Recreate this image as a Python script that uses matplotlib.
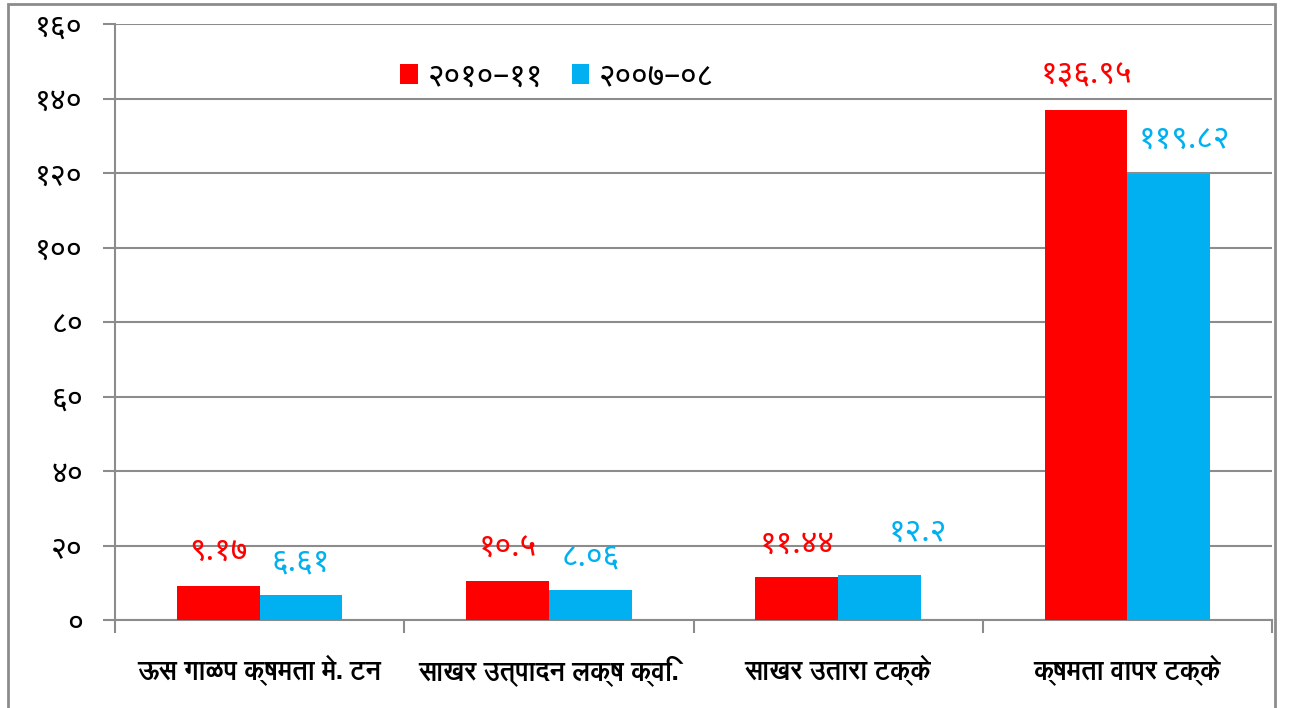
import numpy as np
import matplotlib
matplotlib.use('Agg')
from matplotlib import pyplot as plt
from matplotlib.patches import Rectangle

# data
categories = ['ऊस गाळप क्षमता मे. टन', 'साखर उत्पादन लक्ष क्वि.', 'साखर उतारा टक्के', 'क्षमता वापर टक्के']
series_names = ['२०१०–११', '२००७–०८']
values_2010 = [9.17, 10.5, 11.44, 136.95]
values_2007 = [6.61, 8.06, 12.2, 119.82]
y_ticks = [0, 20, 40, 60, 80, 100, 120, 140, 160]

red = '#FF0000'
blue = '#00B0F0'
grid_gray = '#8C8C8C'

num_font = ['Noto Sans Devanagari', 'FreeSans', 'DejaVu Sans']
cat_font = ['FreeSans', 'Noto Sans Devanagari', 'DejaVu Sans']
plt.rcParams['font.family'] = num_font

deva_digits = str.maketrans('0123456789', '०१२३४५६७८९')


def to_deva(v):
    return str(v).translate(deva_digits)


fig = plt.figure(figsize=(12.93, 7.08), dpi=100)
ax = fig.add_axes([115 / 1293, 1 - 620 / 708, (1272 - 115) / 1293, (620 - 24) / 708])

x = np.arange(len(categories))
w = 0.286
b1 = ax.bar(x - w / 2, values_2010, w, color=red, zorder=3)
b2 = ax.bar(x + w / 2, values_2007, w, color=blue, zorder=3)

# label offsets in px (x, y above bar top), as placed in the original
off_2010 = [(0, 35), (0, 33), (0, 33), (0, 35)]
off_2007 = [(0, 33), (0, 33), (38, 42), (16, 34)]
for bars, vals, col, offs in [(b1, values_2010, red, off_2010), (b2, values_2007, blue, off_2007)]:
    for rect, v, (dx, dy) in zip(bars, vals, offs):
        ax.annotate(to_deva(v), (rect.get_x() + rect.get_width() / 2, rect.get_height()),
                    xytext=(dx * 0.72, dy * 0.72), textcoords='offset points',
                    ha='center', va='center', color=col, fontsize=23)

ax.set_xlim(-0.5, len(categories) - 0.5)
ax.set_ylim(0, 160)
ax.set_yticks(y_ticks)
ax.set_yticklabels([to_deva(t) for t in y_ticks], fontsize=22)
ax.yaxis.grid(True, color=grid_gray, linewidth=1.5, zorder=0)

ax.set_xticks(x)
ax.set_xticklabels(categories, fontsize=18.5, fontweight='bold', family=cat_font)
ax.set_xticks(np.arange(-0.5, len(categories)), minor=True)
ax.tick_params(axis='x', which='major', length=0, pad=25)
ax.tick_params(axis='x', which='minor', length=9, color=grid_gray, width=1.5)
ax.tick_params(axis='y', length=9, color=grid_gray, width=1.5, pad=14)

for s in ['top', 'right']:
    ax.spines[s].set_visible(False)
for s in ['left', 'bottom']:
    ax.spines[s].set_color(grid_gray)
    ax.spines[s].set_linewidth(1.5)

fig.legend([b1, b2], series_names, loc='center left', bbox_to_anchor=(400 / 1293, 1 - 77 / 708),
           ncol=2, frameon=False, fontsize=23, handlelength=0.56, handleheight=0.56,
           columnspacing=0.9, handletextpad=0.3, borderpad=0, borderaxespad=0)

# outer border
fig.patches.append(Rectangle((8 / 1293, -0.01), (1275 - 8) / 1293, 1 - 4 / 708 + 0.01,
                             transform=fig.transFigure, fill=False, edgecolor=grid_gray, linewidth=2))

fig.savefig('out.png', dpi=100)
